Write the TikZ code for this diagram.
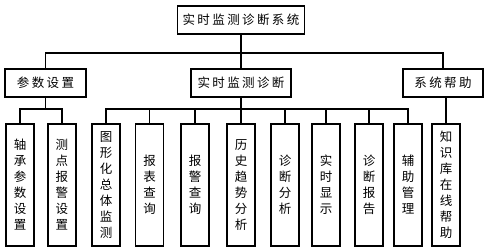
\documentclass[tikz,border=0pt]{standalone}
\usepackage{fontspec}
\newfontfamily\cjk{Noto Sans CJK SC}
\newcommand{\gp}{\hspace{2.4pt}}
\begin{document}
\begin{tikzpicture}[x=1pt,y=-1pt,
  box/.style={draw=black,line width=1.3pt,inner sep=0pt,font=\cjk\fontsize{12.5}{16}\selectfont},
  hbox/.style={box,minimum height=28pt},
  leaf/.style={box,minimum width=28pt,minimum height=122pt,align=center},
  conn/.style={line width=1.1pt}]
\useasboundingbox (0,0) rectangle (491,252);
\node[hbox,minimum width=127pt] (top) at (241,20) {实\gp 时\gp 监\gp 测\gp 诊\gp 断\gp 系\gp 统};
\node[hbox,minimum width=81pt] (p1) at (45.5,83) {参\gp 数\gp 设\gp 置};
\node[hbox,minimum width=100pt] (p2) at (241,83) {实\gp 时\gp 监\gp 测\gp 诊\gp 断};
\node[hbox,minimum width=80pt] (p3) at (443,83) {系\gp 统\gp 帮\gp 助};
\coordinate (bus1) at (0,53);
\coordinate (bus2) at (0,109);
% leaves
\node[leaf] (a1) at (20,185) {轴\\承\\参\\数\\设\\置};
\node[leaf] (a2) at (62,185) {测\\点\\报\\警\\设\\置};
\node[leaf] (b1) at (106,185) {图\\形\\化\\总\\体\\监\\测};
\node[leaf] (b2) at (149.5,185) {报\\表\\查\\询};
\node[leaf] (b3) at (195,185) {报\\警\\查\\询};
\node[leaf] (b4) at (241,185) {历\\史\\趋\\势\\分\\析};
\node[leaf] (b5) at (285,185) {诊\\断\\分\\析};
\node[leaf] (b6) at (326,185) {实\\时\\显\\示};
\node[leaf] (b7) at (369,185) {诊\\断\\报\\告};
\node[leaf] (b8) at (408,185) {辅\\助\\管\\理};
\node[leaf] (c1) at (446,185) {知\\识\\库\\在\\线\\帮\\助};
% connectors
\draw[conn] (top.south) -- (p2.north);
\draw[conn] (top.south |- bus1) -| (p1.north);
\draw[conn] (top.south |- bus1) -| (p3.north);
\draw[conn] (p1.south) -- (p1.south |- bus2);
\draw[conn] (a1.north) |- (a2.north |- bus2) -- (a2.north);
\draw[conn] (p2.south) -- (b4.north);
\draw[conn] (b1.north) |- (b8.north |- bus2) -- (b8.north);
\foreach \n in {b2,b3,b5,b6,b7}{\draw[conn] (\n.north) -- (\n.north |- bus2);}
\draw[conn] (c1.north |- p3.south) -- (c1.north);
\end{tikzpicture}
\end{document}
